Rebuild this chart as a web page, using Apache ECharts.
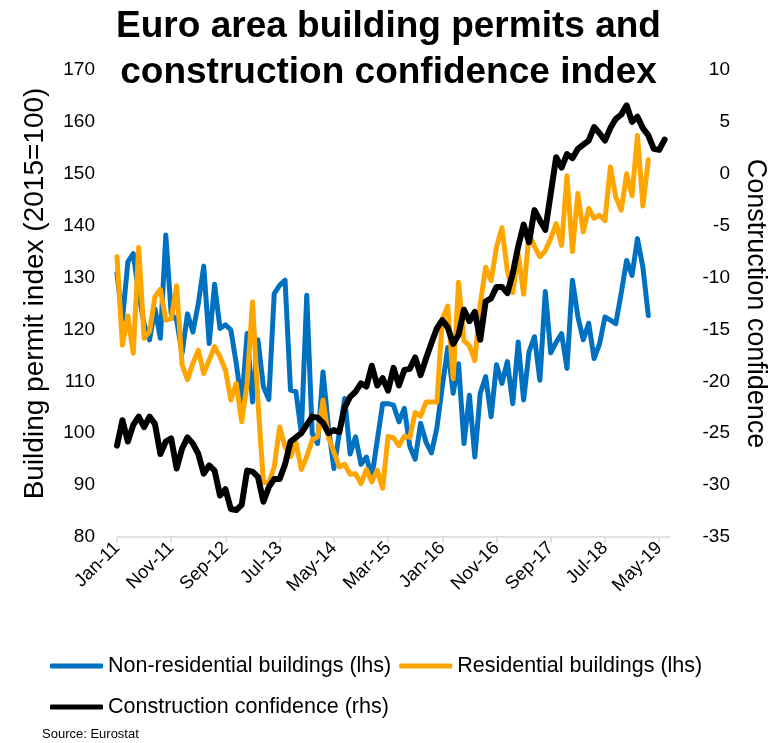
<!DOCTYPE html>
<html>
<head>
<meta charset="utf-8">
<script src="https://cdn.jsdelivr.net/npm/echarts@6/dist/echarts.min.js"></script>
<style>
html, body { margin: 0; padding: 0; background: #fff; }
#chart { width: 777px; height: 743px; }
</style>
</head>
<body>
<div id="chart"></div>
<script>
// monthly categories Jan-11 .. Jul-19
const monthNames = ['Jan', 'Feb', 'Mar', 'Apr', 'May', 'Jun', 'Jul', 'Aug', 'Sep', 'Oct', 'Nov', 'Dec'];
const years = [11, 12, 13, 14, 15, 16, 17, 18, 19];
const lastMonthOf19 = 7;

// Non-residential buildings, permit index (lhs), Jan-11 .. Mar-19
const nonResidential = [
  130.8, 121.8, 133.0, 134.6, 127.0, 121.0, 118.0, 124.0, 118.3, 138.2,
  123.0, 121.8, 115.4, 123.0, 119.5, 125.0, 132.2, 117.3, 128.7, 120.2,
  120.9, 119.9, 113.4, 105.7, 119.2, 106.0, 118.0, 109.0, 106.5, 126.9,
  128.5, 129.5, 108.3, 108.0, 100.0, 126.6, 100.0, 98.0, 111.8, 101.2,
  93.2, 100.0, 106.7, 96.0, 99.3, 94.0, 95.4, 91.5, 98.6, 105.7,
  105.7, 105.4, 102.2, 104.8, 97.5, 95.0, 101.9, 98.3, 96.2, 101.0,
  109.0, 116.5, 107.7, 113.4, 98.0, 107.3, 95.4, 107.7, 110.9, 103.2,
  113.2, 109.6, 113.8, 105.7, 117.6, 106.4, 115.7, 118.6, 110.2, 127.3,
  115.5, 117.5, 119.2, 112.5, 129.5, 122.5, 118.0, 121.2, 114.4, 117.2,
  122.4, 121.8, 121.1, 127.0, 133.3, 130.4, 137.5, 132.0, 122.7
];

// Residential buildings, permit index (lhs), Jan-11 .. Mar-19
const residential = [
  134.0, 117.0, 122.6, 115.4, 135.8, 118.3, 119.6, 126.3, 127.7, 121.8,
  122.1, 128.4, 113.2, 110.3, 113.5, 116.0, 111.5, 114.1, 116.7, 114.7,
  112.2, 106.4, 109.6, 102.2, 109.6, 125.3, 106.0, 90.5, 90.5, 93.5,
  101.2, 97.4, 95.5, 98.3, 93.0, 95.5, 98.7, 99.3, 106.4, 99.2,
  96.4, 93.5, 94.0, 92.1, 92.2, 90.3, 93.0, 90.6, 92.9, 89.4,
  99.4, 99.1, 97.6, 99.4, 99.2, 104.0, 103.3, 106.0, 106.0, 106.0,
  122.0, 124.5, 110.5, 129.1, 117.8, 116.9, 114.0, 124.9, 132.0, 129.4,
  135.8, 139.6, 131.3, 127.1, 134.5, 126.8, 138.5, 136.0, 134.0, 135.2,
  137.5, 140.4, 136.2, 149.6, 135.0, 146.2, 138.8, 143.3, 141.4, 142.0,
  141.0, 151.3, 145.5, 143.0, 150.0, 145.8, 157.4, 143.8, 152.7
];

// Construction confidence (rhs), Jan-11 .. Jun-19
const confidence = [
  -26.2, -23.75, -25.8, -24.2, -23.4, -24.4, -23.4, -24.1, -27.0, -25.8,
  -25.5, -28.4, -26.5, -25.4, -26.0, -27.0, -28.9, -28.1, -28.6, -31.0,
  -30.4, -32.3, -32.4, -31.9, -28.6, -28.7, -29.2, -31.6, -30.2, -29.4,
  -29.4, -28.0, -25.8, -25.4, -25.0, -24.2, -23.4, -23.5, -24.0, -25.0,
  -24.7, -24.9, -22.5, -21.5, -21.0, -20.2, -20.5, -18.5, -20.4, -19.7,
  -20.9, -18.7, -20.4, -18.9, -18.8, -17.7, -19.4, -17.8, -16.3, -14.9,
  -14.1, -14.8, -16.4, -15.5, -13.1, -14.2, -13.3, -16.0, -12.3, -12.0,
  -10.9, -10.9, -11.5, -9.6, -7.0, -4.9, -6.6, -3.5, -4.5, -5.4,
  -1.9, 1.6, 0.6, 1.9, 1.5, 2.4, 2.8, 3.2, 4.5, 3.9,
  3.2, 4.4, 5.3, 5.7, 6.6, 5.0, 5.5, 4.4, 3.7, 2.4,
  2.3, 3.3
];

const seriesNames = ['Non-residential buildings (lhs)', 'Residential buildings (lhs)', 'Construction confidence (rhs)'];
const seriesColors = ['#0070C0', '#FFA500', '#000000'];

let months = [];
years.forEach(function (y) {
  monthNames.forEach(function (m, i) {
    if (y < 19 || i < lastMonthOf19) months.push(m + '-' + y);
  });
});

const font = '"Liberation Sans", Arial, sans-serif';

let chart = echarts.init(document.getElementById('chart'));

let option = {
  animation: false,
  textStyle: { fontFamily: font },
  title: {
    text: 'Euro area building permits and\nconstruction confidence index',
    left: 'center',
    top: -1,
    textStyle: { fontSize: 37, fontWeight: 'bold', color: '#000', lineHeight: 46, fontFamily: font }
  },
  grid: { left: 117, right: 99, top: 70, bottom: 206 },
  legend: [
    {
      left: 45, top: 650,
      data: [seriesNames[0], seriesNames[1]],
      icon: 'roundRect', itemWidth: 53, itemHeight: 5, itemGap: 8,
      textStyle: { fontSize: 21.5, color: '#000', fontFamily: font }
    },
    {
      left: 45, top: 691,
      data: [seriesNames[2]],
      icon: 'roundRect', itemWidth: 53, itemHeight: 5,
      textStyle: { fontSize: 21.5, color: '#000', fontFamily: font }
    }
  ],
  xAxis: {
    type: 'category',
    data: months,
    boundaryGap: false,
    axisLine: { onZero: false, lineStyle: { color: '#D9D9D9', width: 1.5 } },
    axisTick: { interval: 9, length: 6, lineStyle: { color: '#D9D9D9', width: 1.5 } },
    axisLabel: { interval: 9, rotate: 45, fontSize: 18.5, color: '#000', margin: 8 }
  },
  yAxis: [
    {
      type: 'value', position: 'left',
      min: 80, max: 170, interval: 10,
      name: 'Building permit index (2015=100)',
      nameLocation: 'middle', nameGap: 68,
      nameTextStyle: { fontSize: 28, color: '#000', padding: [0, 0, 0, 20] },
      axisLine: { show: false }, axisTick: { show: false },
      splitLine: { show: false },
      axisLabel: { fontSize: 19, color: '#000', margin: 22 }
    },
    {
      type: 'value', position: 'right',
      min: -35, max: 10, interval: 5,
      name: 'Construction confidence',
      nameLocation: 'middle', nameGap: 72, nameRotate: -90,
      nameTextStyle: { fontSize: 27, color: '#000' },
      axisLine: { show: false }, axisTick: { show: false },
      splitLine: { show: false },
      axisLabel: { fontSize: 19, color: '#000', margin: 60, align: 'right' }
    }
  ],
  series: [
    {
      name: seriesNames[0], type: 'line', yAxisIndex: 0, data: nonResidential,
      symbol: 'none', color: seriesColors[0],
      lineStyle: { width: 5, cap: 'round', join: 'round' }
    },
    {
      name: seriesNames[1], type: 'line', yAxisIndex: 0, data: residential,
      symbol: 'none', color: seriesColors[1],
      lineStyle: { width: 5, cap: 'round', join: 'round' }
    },
    {
      name: seriesNames[2], type: 'line', yAxisIndex: 1, data: confidence,
      symbol: 'none', color: seriesColors[2],
      lineStyle: { width: 6, cap: 'round', join: 'round' }
    }
  ],
  graphic: [
    {
      type: 'text', left: 42, top: 728,
      style: { text: 'Source: Eurostat', fontSize: 13, fill: '#000', fontFamily: font }
    }
  ]
};

chart.setOption(option);
</script>
</body>
</html>
